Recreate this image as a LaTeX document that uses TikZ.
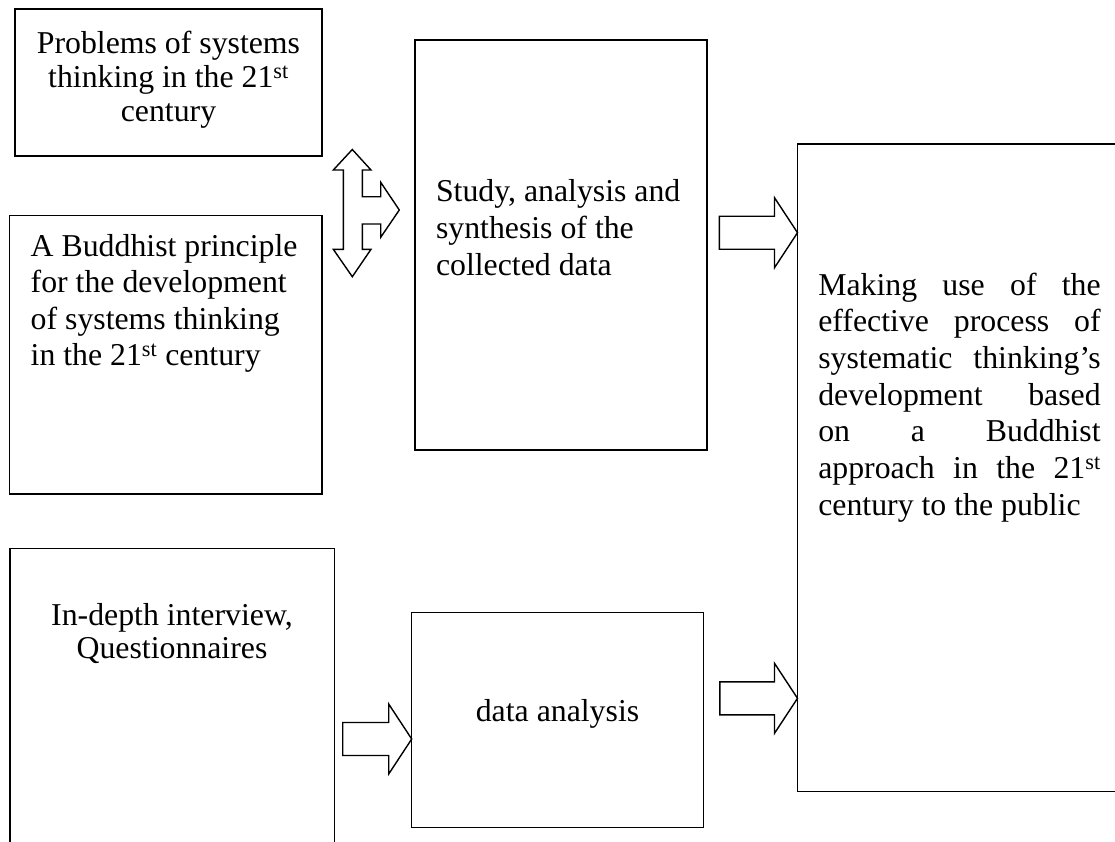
\documentclass[tikz,border=0pt]{standalone}
\usepackage{fontspec}
\setmainfont{Liberation Serif}
\newcommand{\blockarrow}[2]{% tip coordinate, total length
  \draw[barrow] (#1) -- ++(-23,35) -- ++(0,-18.5) -- ++(-#2+23,0) -- ++(0,-33) -- ++(#2-23,0) -- ++(0,-18.5) -- cycle;}
\begin{document}
\begin{tikzpicture}[x=1pt,y=-1pt,
  font=\fontsize{31.8}{36.7}\selectfont,
  box/.style={draw, line width=1.4pt, inner sep=0pt, outer sep=0pt, anchor=north west},
  txt/.style={inner sep=0pt, outer sep=0pt},
  barrow/.style={draw, line width=1.4pt, fill=white, line join=miter}]
\useasboundingbox (0,0) rectangle (1115,841);
\clip (0,0) rectangle (1115,841);

% boxes
\node[box, minimum width=307pt, minimum height=147pt] (b1) at (15,9) {};
\node[box, minimum width=312.5pt, minimum height=278.5pt] (b2) at (9.5,215.5) {};
\node[box, minimum width=292pt, minimum height=410pt] (b3) at (415,40) {};
\node[box, minimum width=330pt, minimum height=647.5pt] (b4) at (797.5,144) {};
\node[box, minimum width=324.3pt, minimum height=320pt] (b5) at (10,548.3) {};
\node[box, minimum width=292pt, minimum height=215pt] (b6) at (411.7,612.7) {};

% texts
\node[txt, anchor=base] (t1) at (168.5,53.3) {\parbox[t]{300pt}{\centering\fontsize{31.8}{34}\selectfont
  Problems of systems\\ thinking in the 21\textsuperscript{st}\\ century}};
\node[txt, anchor=base west] (t2) at (30.7,256.7) {\parbox[t]{290pt}{\raggedright\fontsize{31.8}{36.2}\selectfont
  A Buddhist principle\\ for the development\\ of systems thinking\\ in the 21\textsuperscript{st} century}};
\node[txt, anchor=base west] (t3) at (436,201.7) {\parbox[t]{265pt}{\raggedright\fontsize{31.8}{36.7}\selectfont
  Study, analysis and\\ synthesis of the\\ collected data}};
\node[txt, anchor=base west] (t4) at (818.3,295) {\parbox[t]{283pt}{\raggedright\fontsize{31.8}{36.7}\selectfont
  \makebox[282.4pt][s]{Making use of the}\\
  \makebox[282.4pt][s]{effective process of}\\
  \makebox[282.4pt][s]{systematic thinking’s}\\
  \makebox[282.4pt][s]{development based}\\
  \makebox[282.4pt][s]{on a Buddhist}\\
  \makebox[282.4pt][s]{approach in the 21\textsuperscript{st}}\\
  century to the public}};
\node[txt, anchor=base] (t5) at (172,625.7) {\parbox[t]{310pt}{\centering\fontsize{31.8}{32.7}\selectfont
  In-depth interview,\\ Questionnaires}};
\node[txt, anchor=base] (t6) at (557.5,721.7) {data analysis};

% block arrows (tips on the target boxes)
\coordinate (ya) at (0,232.7);
\coordinate (yb) at (0,698.3);
\coordinate (yc) at (0,739);
\coordinate (ta) at (b4.west |- ya);
\coordinate (tb) at (b4.west |- yb);
\coordinate (tc) at (b6.west |- yc);
\blockarrow{ta}{78.2}
\blockarrow{tb}{77.7}
\blockarrow{tc}{69}

% double arrow with branch between left boxes and study box
\coordinate (da) at (352.3,213);
\draw[barrow] (da) ++(0,-63.5) -- ++(18.7,20.5) -- ++(-8.7,0) -- ++(0,26.7)
  -- ++(18.4,0) -- ++(0,-14.4) -- ++(18.6,27.7) -- ++(-18.6,27.3) -- ++(0,-13.3)
  -- ++(-18.4,0) -- ++(0,25.3) -- ++(8.7,0) -- ++(-18.7,27.4) -- ++(-19,-27.4)
  -- ++(10,0) -- ++(0,-79.3) -- ++(-10,0) -- cycle;
\end{tikzpicture}
\end{document}
